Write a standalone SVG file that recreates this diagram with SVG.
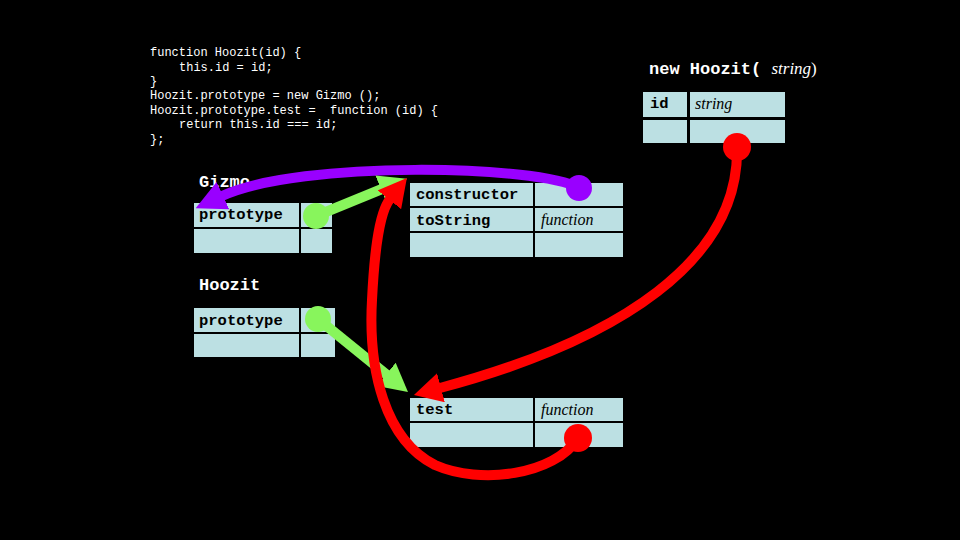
<svg xmlns="http://www.w3.org/2000/svg" width="960" height="540" viewBox="0 0 960 540">
  <style>
    .code { font-family: "Liberation Mono", "DejaVu Sans Mono", monospace; font-size: 12px; fill: #ffffff; white-space: pre; }
    .title { font-family: "Liberation Mono", "DejaVu Sans Mono", monospace; font-size: 17px; font-weight: bold; fill: #ffffff; white-space: pre; }
    .cell { fill: #bce0e3; }
    .key { font-family: "Liberation Mono", "DejaVu Sans Mono", monospace; font-size: 15.5px; font-weight: bold; fill: #000000; }
    .val { font-family: "Liberation Serif", "DejaVu Serif", serif; font-size: 16px; font-style: italic; fill: #000000; }
    .it { font-family: "Liberation Serif", "DejaVu Serif", serif; font-style: italic; font-weight: normal; }
    .pl { font-family: "Liberation Serif", "DejaVu Serif", serif; font-weight: normal; }
    .purple { stroke: #9900ff; fill: none; stroke-width: 10; }
    .green { stroke: #88f55c; fill: none; stroke-width: 10; }
    .red { stroke: #ff0000; fill: none; stroke-width: 10; }
  </style>
  <defs>
    <marker id="headPurple" markerUnits="userSpaceOnUse" viewBox="0 0 30 30" refX="1" refY="15" markerWidth="30" markerHeight="30" orient="auto">
      <path d="M0,0 L30,15 L0,30 z" fill="#9900ff"/>
    </marker>
    <marker id="headGreen" markerUnits="userSpaceOnUse" viewBox="0 0 30 30" refX="1" refY="15" markerWidth="30" markerHeight="30" orient="auto">
      <path d="M0,0 L28,15 L0,30 z" fill="#88f55c"/>
    </marker>
    <marker id="headRed" markerUnits="userSpaceOnUse" viewBox="0 0 30 30" refX="1" refY="15" markerWidth="30" markerHeight="30" orient="auto">
      <path d="M0,0 L28,15 L0,30 z" fill="#ff0000"/>
    </marker>
  </defs>
  <rect x="0" y="0" width="960" height="540" fill="#000000"/>

  <g id="code">
    <text class="code" x="150" y="56">function Hoozit(id) {</text>
    <text class="code" x="179" y="71">this.id = id;</text>
    <text class="code" x="150" y="85">}</text>
    <text class="code" x="150" y="99">Hoozit.prototype = new Gizmo ();</text>
    <text class="code" x="150" y="114">Hoozit.prototype.test =  function (id) {</text>
    <text class="code" x="179" y="128">return this.id === id;</text>
    <text class="code" x="150" y="143">};</text>
  </g>

  <g id="instance">
    <text class="title" x="649" y="74">new Hoozit( <tspan class="it">string</tspan><tspan class="pl">)</tspan></text>
    <rect class="cell" x="643" y="92" width="44" height="25"/>
    <rect class="cell" x="690" y="92" width="95" height="25"/>
    <rect class="cell" x="643" y="120" width="44" height="23"/>
    <rect class="cell" x="690" y="120" width="95" height="23"/>
    <text class="key" x="650" y="108">id</text>
    <text class="val" x="695" y="109">string</text>
  </g>

  <g id="gizmo">
    <text class="title" x="199" y="187">Gizmo</text>
    <rect class="cell" x="194" y="203" width="105" height="24"/>
    <rect class="cell" x="301" y="203" width="31" height="24"/>
    <rect class="cell" x="194" y="229" width="105" height="24"/>
    <rect class="cell" x="301" y="229" width="31" height="24"/>
    <text class="key" x="199" y="219">prototype</text>
  </g>

  <g id="gizmoPrototype">
    <rect class="cell" x="410" y="183" width="123" height="23"/>
    <rect class="cell" x="535" y="183" width="88" height="23"/>
    <rect class="cell" x="410" y="208" width="123" height="23"/>
    <rect class="cell" x="535" y="208" width="88" height="23"/>
    <rect class="cell" x="410" y="233" width="123" height="24"/>
    <rect class="cell" x="535" y="233" width="88" height="24"/>
    <text class="key" x="416" y="199">constructor</text>
    <text class="key" x="416" y="225">toString</text>
    <text class="val" x="541" y="225">function</text>
  </g>

  <g id="hoozit">
    <text class="title" x="199" y="290">Hoozit</text>
    <rect class="cell" x="194" y="308" width="105" height="24"/>
    <rect class="cell" x="301" y="308" width="34" height="24"/>
    <rect class="cell" x="194" y="334" width="105" height="23"/>
    <rect class="cell" x="301" y="334" width="34" height="23"/>
    <text class="key" x="199" y="325">prototype</text>
  </g>

  <g id="hoozitPrototype">
    <rect class="cell" x="410" y="398" width="123" height="23"/>
    <rect class="cell" x="535" y="398" width="88" height="23"/>
    <rect class="cell" x="410" y="423" width="123" height="24"/>
    <rect class="cell" x="535" y="423" width="88" height="24"/>
    <text class="key" x="416" y="414">test</text>
    <text class="val" x="541" y="415">function</text>
  </g>

  <g id="connectors">
    <path class="purple" d="M579,188 C540,165 300,160 222,196" marker-end="url(#headPurple)"/>
    <circle cx="579" cy="188" r="13" fill="#9900ff"/>
    <path class="green" d="M316,216 L382,189" marker-end="url(#headGreen)"/>
    <circle cx="316" cy="216" r="13" fill="#88f55c"/>
    <path class="green" d="M318,319 L387,375" marker-end="url(#headGreen)"/>
    <circle cx="318" cy="319" r="13" fill="#88f55c"/>
    <path class="red" d="M737,147 C740,260 620,340 440,388" marker-end="url(#headRed)"/>
    <circle cx="737" cy="147" r="14" fill="#ff0000"/>
    <path class="red" d="M578,438 C555,475 480,485 435,465 C385,440 368,370 372,300 C374,260 378,214 390,199" marker-end="url(#headRed)"/>
    <circle cx="578" cy="438" r="14" fill="#ff0000"/>
  </g>
</svg>
